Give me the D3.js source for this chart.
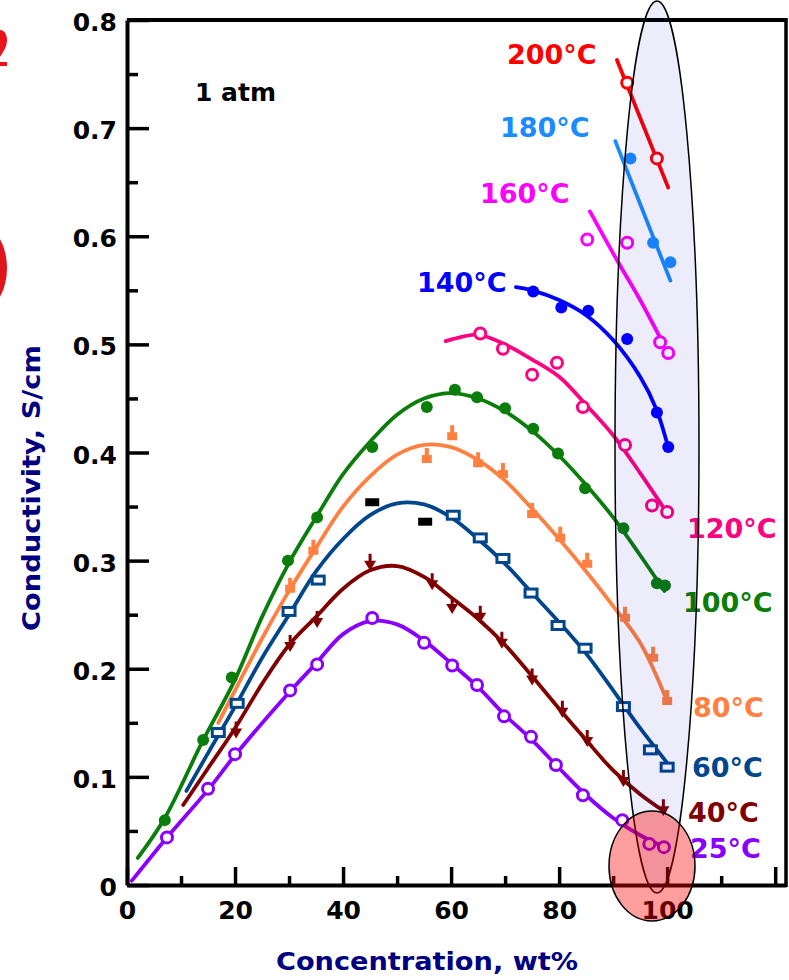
<!DOCTYPE html>
<html><head><meta charset="utf-8">
<script src="https://cdn.jsdelivr.net/npm/d3@7"></script>
<style>
html,body{margin:0;padding:0;background:#fff;}
svg{display:block;font-family:"DejaVu Sans",sans-serif;font-weight:bold;}
</style></head>
<body>
<svg id="chart" width="789" height="980"></svg>
<script>
// ---------- data (concentration wt%, conductivity S/cm) ----------
const xMajorTicks = [0, 20, 40, 60, 80, 100, 120];
const xMinorTicks = [10, 30, 50, 70, 90, 110];
const yMajorTicks = [0, 0.1, 0.2, 0.3, 0.4, 0.5, 0.6, 0.7, 0.8];
const yMinorTicks = [0.05, 0.15, 0.25, 0.35, 0.45, 0.55, 0.65, 0.75];
const xTickLabels = ["0", "20", "40", "60", "80", "100", ""];
const yTickLabels = ["0", "0.1", "0.2", "0.3", "0.4", "0.5", "0.6", "0.7", "0.8"];

const temps = ["25°C","40°C","60°C","80°C","100°C","120°C","140°C","160°C","180°C","200°C"];

const pts25 = [[7.4,0.044],[15.0,0.089],[20.0,0.121],[30.2,0.180],[35.2,0.204],[45.4,0.247],[55.0,0.224],[60.2,0.203],[64.8,0.185],[69.8,0.156],[74.8,0.137],[79.4,0.111],[84.4,0.083],[91.7,0.060],[96.7,0.038],[99.4,0.035]];
const fit25 = [[0.9,0.004],[7.4,0.044],[15,0.088],[20,0.120],[30,0.178],[35,0.205],[40,0.232],[45,0.244],[50,0.241],[55,0.226],[60,0.205],[65,0.183],[70,0.157],[75,0.134],[80,0.108],[85,0.083],[90,0.062],[95,0.046],[99.5,0.035]];

const pts40 = [[20.2,0.143],[30.2,0.223],[35.2,0.245],[45.0,0.298],[56.5,0.280],[60.2,0.258],[65.4,0.250],[69.4,0.226],[75.0,0.192],[80.6,0.162],[85.2,0.135],[91.9,0.098],[99.3,0.071]];
const fit40 = [[10.4,0.074],[15,0.108],[20,0.145],[25,0.186],[30,0.222],[35,0.248],[40,0.274],[45,0.291],[50,0.295],[55,0.285],[60,0.266],[65,0.246],[70,0.222],[75,0.193],[80,0.163],[85,0.134],[90,0.106],[95,0.084],[99.5,0.068]];

const pts60 = [[16.9,0.141],[20.4,0.168],[30.0,0.253],[35.4,0.282],[60.4,0.342],[65.4,0.321],[69.6,0.302],[74.8,0.270],[79.8,0.240],[84.8,0.219],[91.9,0.165],[96.9,0.125],[100.0,0.109]];
const fit60 = [[11,0.087],[15,0.122],[20,0.165],[25,0.210],[30,0.250],[35,0.290],[40,0.320],[45,0.342],[50,0.353],[55,0.352],[60,0.340],[65,0.320],[70,0.297],[75,0.270],[80,0.243],[85,0.214],[90,0.180],[95,0.145],[100,0.113]];

const pts80 = [[30.2,0.275],[34.5,0.310],[55.5,0.395],[60.2,0.416],[65.0,0.391],[69.6,0.381],[75.0,0.344],[80.2,0.322],[85.2,0.298],[92.2,0.248],[97.4,0.211],[100.0,0.171]];
const fit80 = [[16.9,0.150],[20,0.180],[25,0.228],[30,0.272],[35,0.312],[40,0.350],[45,0.378],[50,0.398],[55,0.407],[60,0.405],[65,0.393],[70,0.374],[75,0.348],[80,0.320],[85,0.290],[90,0.258],[95,0.224],[100,0.170]];

const pts100 = [[7.0,0.060],[14.1,0.134],[19.4,0.192],[29.8,0.300],[35.2,0.340],[45.4,0.405],[55.5,0.442],[60.7,0.458],[64.8,0.451],[70.0,0.441],[75.2,0.422],[79.8,0.399],[84.8,0.367],[91.9,0.330],[98.1,0.279],[99.6,0.277]];
const fit100 = [[2,0.025],[7,0.062],[14,0.133],[20,0.190],[25,0.248],[30,0.298],[35,0.340],[40,0.380],[45,0.410],[50,0.435],[55,0.450],[60,0.455],[65,0.450],[70,0.438],[75,0.420],[80,0.397],[85,0.370],[90,0.340],[95,0.305],[99.5,0.272]];

const pts120 = [[65.4,0.510],[69.6,0.496],[75.0,0.472],[79.6,0.483],[84.4,0.442],[92.2,0.407],[97.2,0.351],[100.0,0.345]];
const fit120 = [[59,0.503],[62,0.507],[65,0.509],[70,0.500],[75,0.486],[80,0.470],[85,0.444],[90,0.416],[95,0.381],[100,0.344]];

const pts140 = [[75.2,0.549],[80.4,0.534],[85.4,0.531],[92.6,0.505],[98.1,0.437],[100.2,0.405]];
const fit140 = [[72,0.553],[75,0.550],[80,0.541],[85,0.527],[90,0.504],[95,0.470],[98,0.440],[100.3,0.403]];

const pts160 = [[85.2,0.597],[92.6,0.594],[98.7,0.502],[100.2,0.492]];
const fit160 = [[85.7,0.623],[90.7,0.578],[95,0.541],[98.5,0.508]];

const pts180 = [[93.2,0.672],[97.4,0.594],[100.6,0.576]];
const fit180 = [[90.4,0.688],[100.6,0.559]];

const pts200 = [[92.6,0.742],[98.1,0.672]];
const fit200 = [[90.7,0.763],[100.2,0.645]];

const ptsBlack = [[45.4,0.354],[55.2,0.336]];

const colors = ["#8a00ff","#800000","#00468c","#ff8040","#0a7d0a","#ff0080","#0000ff","#ff00ff","#1a8cff","#ff0000"];
const markers = ["openCircle","triangle","openSquare","tack","dot","openCircle","dot","openCircle","dot","openCircle"];
const labelPos = [[690,858],[688,822],[692,777],[693,717],[683,612],[687,538],[417,292],[480,203],[500,137],[507,64]];

const allPts = [pts25,pts40,pts60,pts80,pts100,pts120,pts140,pts160,pts180,pts200];
const allFits = [fit25,fit40,fit60,fit80,fit100,fit120,fit140,fit160,fit180,fit200];

// ---------- drawing ----------
const svg = d3.select("#chart");
const x = d3.scaleLinear().domain([0, 122]).range([127, 786]);
const y = d3.scaleLinear().domain([0, 0.8]).range([885, 20]);

// left-edge red fragments (cropped pieces of a neighbouring figure)
svg.append("path").attr("fill", "#e8141c")
  .attr("d", "M0,30 C4,30 7,34 7,40 C7,47 3,52 0,57 L0,62 L7,62 L7,66 L0,66 Z");
svg.append("ellipse").attr("cx", -16).attr("cy", 268).attr("rx", 23).attr("ry", 40).attr("fill", "#e0141c");

// frame top & right
svg.append("line").attr("x1", x(0)).attr("x2", x(122)).attr("y1", y(0.8)).attr("y2", y(0.8))
  .attr("stroke", "#000").attr("stroke-width", 4);
svg.append("line").attr("x1", x(122)).attr("x2", x(122)).attr("y1", y(0.8)-2).attr("y2", y(0)+2)
  .attr("stroke", "#000").attr("stroke-width", 3.5);

// axes
svg.append("g").attr("transform", `translate(0,${y(0)})`)
  .call(d3.axisBottom(x).tickValues(xMajorTicks).tickSizeInner(-18).tickSizeOuter(0).tickPadding(16)
    .tickFormat((d, i) => xTickLabels[i]));
svg.append("g").attr("transform", `translate(0,${y(0)})`)
  .call(d3.axisBottom(x).tickValues(xMinorTicks).tickSizeInner(-9).tickSizeOuter(0).tickFormat(""))
  .select(".domain").remove();
const gy = svg.append("g").attr("transform", `translate(${x(0)},0)`)
  .call(d3.axisLeft(y).tickValues(yMajorTicks).tickSizeInner(-22).tickSizeOuter(0).tickPadding(10)
    .tickFormat((d, i) => yTickLabels[i]));
svg.append("g").attr("transform", `translate(${x(0)},0)`)
  .call(d3.axisLeft(y).tickValues(yMinorTicks).tickSizeInner(-11).tickSizeOuter(0).tickFormat(""))
  .select(".domain").remove();

svg.selectAll(".domain").attr("stroke", "#000").attr("stroke-width", 4);
svg.selectAll(".tick line").attr("stroke", "#000").attr("stroke-width", 3.5);
svg.selectAll(".tick text").attr("fill", "#000")
  .style("font-family", "DejaVu Sans").style("font-weight", "bold").style("font-size", "25px");
gy.selectAll(".tick text").attr("dy", "0.42em");

// axis titles
svg.append("text").attr("x", 427).attr("y", 970).attr("text-anchor", "middle")
  .attr("fill", "#000080").style("font-size", "25px")
  .attr("textLength", 302).attr("lengthAdjust", "spacingAndGlyphs")
  .text("Concentration, wt%");
svg.append("text").attr("transform", "translate(40,488) rotate(-90)").attr("text-anchor", "middle")
  .attr("fill", "#000080").style("font-size", "25px")
  .attr("textLength", 286).attr("lengthAdjust", "spacingAndGlyphs")
  .text("Conductivity, S/cm");

svg.append("text").attr("x", 195).attr("y", 101).attr("fill", "#000").style("font-size", "25px").text("1 atm");

// fit lines
const line = d3.line().x(d => x(d[0])).y(d => y(d[1])).curve(d3.curveCatmullRom.alpha(0.5));
allFits.forEach((f, i) => {
  svg.append("path").attr("d", line(f)).attr("fill", "none")
    .attr("stroke", colors[i]).attr("stroke-width", 3.8).attr("stroke-linecap", "round");
});

// markers
function drawMarker(g, type, c) {
  if (type === "openCircle") {
    g.append("circle").attr("r", 5.5).attr("fill", "#fff").attr("stroke", c).attr("stroke-width", 3);
  } else if (type === "dot") {
    g.append("circle").attr("r", 6).attr("fill", c);
  } else if (type === "triangle") {
    g.append("path").attr("d", "M-6,-2 L6,-2 L0,8 Z M-1.5,-9 h3 v8 h-3 Z").attr("fill", c);
  } else if (type === "openSquare") {
    g.append("rect").attr("x", -6).attr("y", -4).attr("width", 12).attr("height", 8)
      .attr("fill", "#fff").attr("stroke", c).attr("stroke-width", 3);
  } else if (type === "tack") {
    g.append("path").attr("d", "M-2,-10 h4 v7 h3 v8 h-10 v-8 h3 Z").attr("fill", c);
  }
}
allPts.forEach((pts, i) => {
  pts.forEach(p => {
    const g = svg.append("g").attr("transform", `translate(${x(p[0])},${y(p[1])})`);
    drawMarker(g, markers[i], colors[i]);
  });
});
ptsBlack.forEach(p => {
  svg.append("rect").attr("x", x(p[0]) - 7).attr("y", y(p[1]) - 4).attr("width", 14).attr("height", 8).attr("fill", "#000");
});

// temperature labels
temps.forEach((t, i) => {
  svg.append("text").attr("x", labelPos[i][0]).attr("y", labelPos[i][1])
    .attr("fill", colors[i]).style("font-size", "27px").text(t);
});

// highlight overlays
svg.append("ellipse").attr("cx", 657).attr("cy", 447).attr("rx", 42).attr("ry", 446)
  .attr("fill", "#0000c8").attr("fill-opacity", 0.075).attr("stroke", "#000").attr("stroke-width", 1.5);
svg.append("ellipse").attr("cx", 652).attr("cy", 866).attr("rx", 43).attr("ry", 55)
  .attr("fill", "#ff0000").attr("fill-opacity", 0.38).attr("stroke", "#000").attr("stroke-width", 1.5);
</script>
</body></html>
